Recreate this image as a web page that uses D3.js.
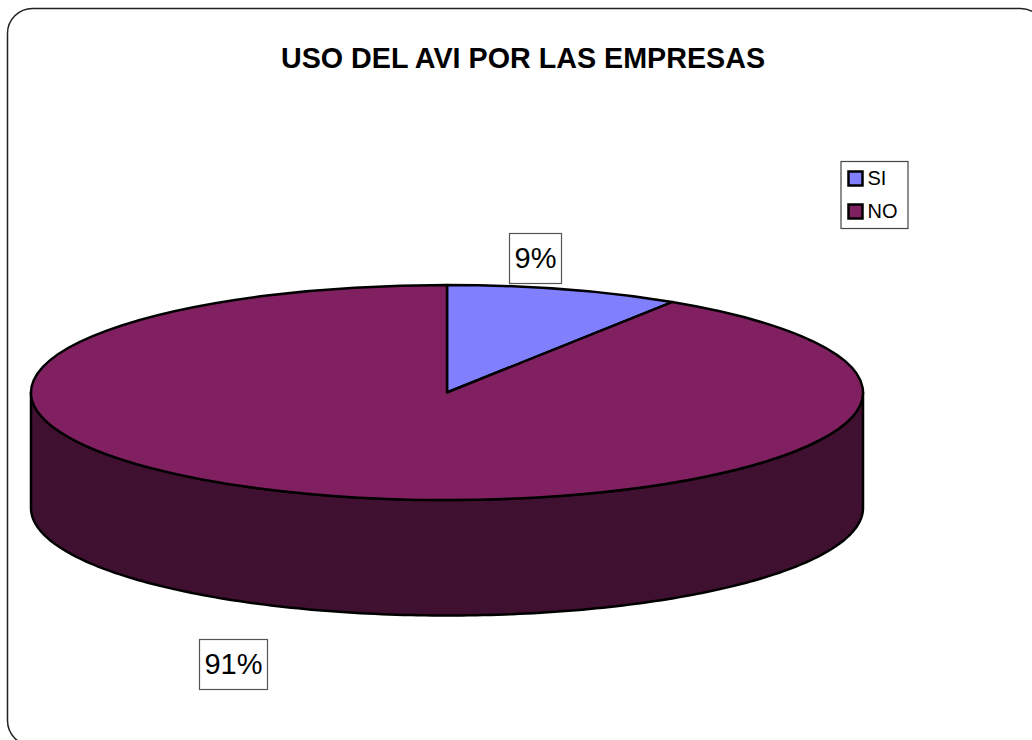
<!DOCTYPE html>
<html>
<head>
<meta charset="utf-8">
<script src="https://d3js.org/d3.v7.min.js"></script>
<style>
  html, body { margin: 0; padding: 0; background: #fff; overflow: hidden; }
  svg { display: block; }
  text { font-family: "Liberation Sans", Arial, sans-serif; fill: #000; }
</style>
</head>
<body>
<div id="chart"></div>
<script>
var chartTitle = "USO DEL AVI POR LAS EMPRESAS";
var categories = ["SI", "NO"];
var values = [9.1, 90.9];
var valueLabels = ["9%", "91%"];
var colors = ["#8080FF", "#802060"];
var sideColors = ["#404080", "#401030"];

var svgWidth = 1032;
var svgHeight = 740;

var svg = d3.select("#chart")
  .append("svg")
  .attr("width", svgWidth)
  .attr("height", svgHeight);

// rounded frame, runs off the right and bottom of the picture
svg.append("rect")
  .attr("x", 7.5)
  .attr("y", 8.5)
  .attr("width", 1038)
  .attr("height", 737)
  .attr("rx", 25)
  .attr("ry", 25)
  .attr("fill", "#fff")
  .attr("stroke", "#222")
  .attr("stroke-width", 1.5);

svg.append("text")
  .attr("x", 523)
  .attr("y", 68)
  .attr("text-anchor", "middle")
  .attr("font-size", 28.7)
  .attr("font-weight", "bold")
  .text(chartTitle);

// pie geometry
var cx = 447, cy = 392.5, rx = 416, ry = 107.5, depth = 115.5;

var pie = d3.pie().sort(null).value(d => d);
var slices = pie(values);

var xScale = d3.scaleLinear().domain([-1, 1]).range([cx - rx, cx + rx]);
var yScale = d3.scaleLinear().domain([-1, 1]).range([cy - ry, cy + ry]);

// side wall: front half of the rim, limited to each slice
slices.forEach((s, i) => {
  var a0 = Math.max(s.startAngle, Math.PI / 2);
  var a1 = Math.min(s.endAngle, Math.PI * 1.5);
  if (a1 <= a0) return;
  var angles = d3.range(0, 181).map(k => a0 + (a1 - a0) * k / 180);
  var wall = d3.area()
    .x(a => xScale(Math.sin(a)))
    .y0(a => yScale(-Math.cos(a)))
    .y1(a => yScale(-Math.cos(a)) + depth);
  svg.append("path")
    .attr("d", wall(angles))
    .attr("fill", sideColors[i])
    .attr("stroke", "#000")
    .attr("stroke-width", 2.5)
    .attr("stroke-linejoin", "round");
});

// top of the pie, circle arcs squashed into the ellipse
var arc = d3.arc().innerRadius(0).outerRadius(rx);
var top3d = svg.append("g")
  .attr("transform", `translate(${cx}, ${cy}) scale(1, ${ry / rx})`);

top3d.selectAll("path")
  .data(slices)
  .enter()
  .append("path")
  .attr("d", arc)
  .attr("fill", (d, i) => colors[i])
  .attr("stroke", "#000")
  .attr("stroke-width", 2.5)
  .attr("stroke-linejoin", "round")
  .attr("vector-effect", "non-scaling-stroke");

// data labels
var labelBoxes = [
  { x: 509.5, y: 233.5, w: 52, h: 50 },
  { x: 199.5, y: 639.5, w: 68, h: 50 }
];

labelBoxes.forEach((b, i) => {
  svg.append("rect")
    .attr("x", b.x)
    .attr("y", b.y)
    .attr("width", b.w)
    .attr("height", b.h)
    .attr("fill", "#fff")
    .attr("stroke", "#555")
    .attr("stroke-width", 1.2);
  svg.append("text")
    .attr("x", b.x + b.w / 2)
    .attr("y", b.y + 34)
    .attr("text-anchor", "middle")
    .attr("font-size", 29)
    .text(valueLabels[i]);
});

// legend
var legend = svg.append("g");
legend.append("rect")
  .attr("x", 841)
  .attr("y", 161.5)
  .attr("width", 67)
  .attr("height", 67)
  .attr("fill", "#fff")
  .attr("stroke", "#444")
  .attr("stroke-width", 1.2);

var legendY = d3.scalePoint().domain(categories).range([178.5, 211.5]);

categories.forEach((c, i) => {
  legend.append("rect")
    .attr("x", 848.5)
    .attr("y", legendY(c) - 7)
    .attr("width", 14)
    .attr("height", 14)
    .attr("fill", colors[i])
    .attr("stroke", "#000")
    .attr("stroke-width", 2.5);
  legend.append("text")
    .attr("x", 867.5)
    .attr("y", legendY(c) + 6)
    .attr("font-size", 20)
    .text(c);
});
</script>
</body>
</html>
